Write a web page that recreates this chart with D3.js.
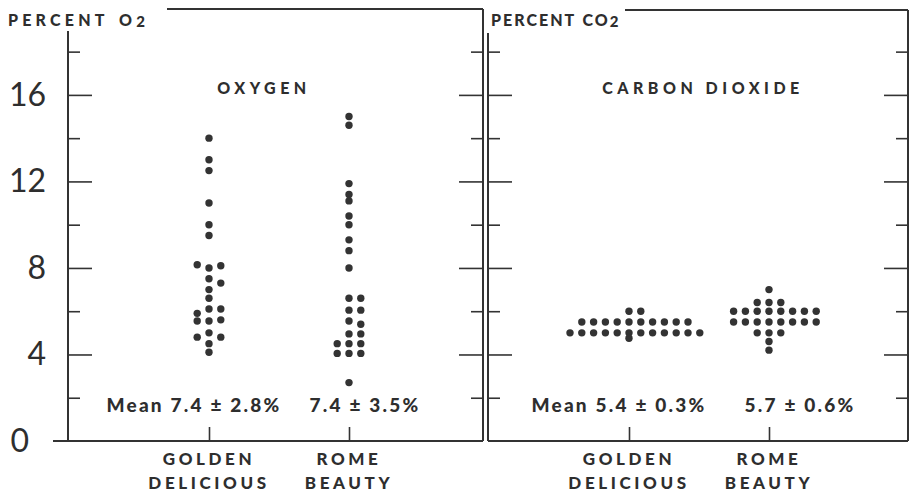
<!DOCTYPE html>
<html>
<head>
<meta charset="utf-8">
<script src="https://cdn.jsdelivr.net/npm/d3@7"></script>
<style>
  body { margin: 0; background: #fff; }
  text { font-family: Lato, "Open Sans", sans-serif; fill: #2e2e2e; }
  .axis path { display: none; }
  .axis line { stroke: #333; stroke-width: 1.6; }
</style>
</head>
<body>
<svg id="chart"></svg>
<script>
// chart values
const varieties = ["GOLDEN DELICIOUS", "ROME BEAUTY"];
const yTickValues = [2, 4, 6, 8, 10, 12, 14, 16, 18];
const yLabelValues = [0, 4, 8, 12, 16];

const o2Golden = [14.0, 13.0, 12.5, 11.0, 10.0, 9.5, 8.0, 8.1, 8.15, 7.5, 7.3, 7.0, 6.6,
  6.1, 6.1, 5.9, 5.55, 5.6, 5.55, 5.0, 4.8, 4.8, 4.5, 4.1];
const o2Rome = [15.0, 14.6, 11.9, 11.4, 11.1, 10.4, 10.0, 9.3, 8.8, 8.0, 6.6, 6.6,
  6.05, 6.05, 5.55, 5.4, 4.95, 4.95, 4.5, 4.5, 4.5, 4.05, 4.05, 4.05, 2.7];
const co2Golden = [6.0, 6.0, 5.5, 5.5, 5.5, 5.5, 5.5, 5.5, 5.5, 5.5, 5.5, 5.5,
  5.0, 5.0, 5.0, 5.0, 5.0, 5.0, 5.0, 5.0, 5.0, 5.0, 5.0, 5.0, 4.75];
const co2Rome = [7.0, 6.4, 6.4, 6.4, 6.0, 6.0, 6.0, 6.0, 6.0, 6.0, 6.0, 6.0,
  5.5, 5.5, 5.5, 5.5, 5.5, 5.5, 5.5, 5.5, 5.0, 5.0, 5.0, 4.6, 4.2];

const o2Means = ["Mean 7.4 \u00b1 2.8%", "7.4 \u00b1 3.5%"];
const co2Means = ["Mean 5.4 \u00b1 0.3%", "5.7 \u00b1 0.6%"];

const width = 909, height = 494;
const svg = d3.select("#chart").attr("width", width).attr("height", height);

const y = d3.scaleLinear().domain([0, 19]).range([441, 30]);

const panels = [
  { left: 68, right: 483, top: 9, axisTop: 31, title: "OXYGEN", titleX: 264,
    label: "PERCENT O", labelX: 8, labelSpacing: 4.2, wordSpacing: 3,
    lineFrom: 167, series: [o2Golden, o2Rome], means: o2Means, meanX: [194, 365] },
  { left: 488, right: 908, top: 10, axisTop: 33, title: "CARBON DIOXIDE", titleX: 703,
    label: "PERCENT CO", labelX: 491, labelSpacing: 2, wordSpacing: 1,
    lineFrom: 625, series: [co2Golden, co2Rome], means: co2Means, meanX: [619, 800] }
];

// simple dot-strip layout: put each dot in the first free column (0, +1, -1, +2 ...)
function stack(values, gap) {
  const cols = {};
  return values.map(v => {
    for (let i = 0; ; i++) {
      const c = i === 0 ? 0 : (i % 2 ? (i + 1) / 2 : -i / 2);
      const used = cols[c] || (cols[c] = []);
      if (used.every(u => Math.abs(u - v) >= gap)) {
        used.push(v);
        return { value: v, col: c };
      }
    }
  });
}

const colStep = 11.8;

panels.forEach(p => {
  const g = svg.append("g");
  const x = d3.scalePoint().domain(varieties).range([p.left + 141, p.left + 281]);

  // frame
  const frame = [
    [[p.left, p.axisTop], [p.left, 441]],
    [[p.lineFrom, p.top], [p.right, p.top]],
    [[p.right, p.top], [p.right, 441]],
    [[p === panels[0] ? 53 : p.left, 441], [p.right, 441]]
  ];
  g.selectAll("path.frame").data(frame).join("path")
    .attr("class", "frame")
    .attr("d", d3.line())
    .attr("fill", "none").attr("stroke", "#333").attr("stroke-width", 2);

  // inward ticks on both sides
  const major = yTickValues.filter(v => v % 4 === 0);
  const minor = yTickValues.filter(v => v % 4 !== 0);
  [[major, 24], [minor, 12]].forEach(([vals, len]) => {
    g.append("g").attr("class", "axis")
      .attr("transform", `translate(${p.left},0)`)
      .call(d3.axisRight(y).tickValues(vals).tickSize(len).tickFormat(""));
    g.append("g").attr("class", "axis")
      .attr("transform", `translate(${p.right},0)`)
      .call(d3.axisLeft(y).tickValues(vals).tickSize(len).tickFormat(""));
  });

  // category ticks
  g.append("g").attr("class", "axis")
    .attr("transform", "translate(0,441)")
    .call(d3.axisBottom(x).tickSize(-14).tickFormat(""));

  // category labels, two lines
  const cat = g.selectAll("text.cat").data(varieties).join("text")
    .attr("class", "cat")
    .attr("x", d => x(d))
    .attr("text-anchor", "middle")
    .attr("font-size", 17).attr("font-weight", 900)
    .attr("letter-spacing", 3.6);
  cat.selectAll("tspan").data(d => d.split(" ")).join("tspan")
    .attr("x", function() { return this.parentNode.getAttribute("x"); })
    .attr("y", (d, i) => 465 + i * 24)
    .text(d => d);

  // dots
  p.series.forEach((vals, si) => {
    g.append("g").selectAll("circle").data(stack(vals, 0.22)).join("circle")
      .attr("cx", d => x(varieties[si]) + d.col * colStep)
      .attr("cy", d => y(d.value))
      .attr("r", 3.7)
      .attr("fill", "#333");
  });

  // titles
  g.append("text")
    .attr("x", p.titleX).attr("y", 94)
    .attr("text-anchor", "middle")
    .attr("font-size", 16).attr("font-weight", 900).attr("letter-spacing", 4.5)
    .text(p.title);

  const lab = g.append("text")
    .attr("x", p.labelX).attr("y", 26)
    .attr("font-size", 16).attr("font-weight", 900)
    .attr("letter-spacing", p.labelSpacing)
    .attr("word-spacing", p.wordSpacing)
    .text(p.label);
  lab.append("tspan").attr("font-size", 15).attr("dy", 1).text("2");

  // means
  g.selectAll("text.mean").data(p.means).join("text")
    .attr("class", "mean")
    .attr("x", (d, i) => p.meanX[i])
    .attr("y", 412)
    .attr("text-anchor", "middle")
    .attr("font-size", 19).attr("font-weight", 900).attr("letter-spacing", 2.2)
    .text(d => d);
});

// y labels on the left axis
svg.selectAll("text.ylab").data(yLabelValues).join("text")
  .attr("class", "ylab")
  .attr("x", d => d === 0 ? 29 : 46)
  .attr("y", d => y(d) + 11)
  .attr("text-anchor", "end")
  .attr("font-size", 32)
  .attr("font-weight", 400)
  .text(d => d);
</script>
</body>
</html>
